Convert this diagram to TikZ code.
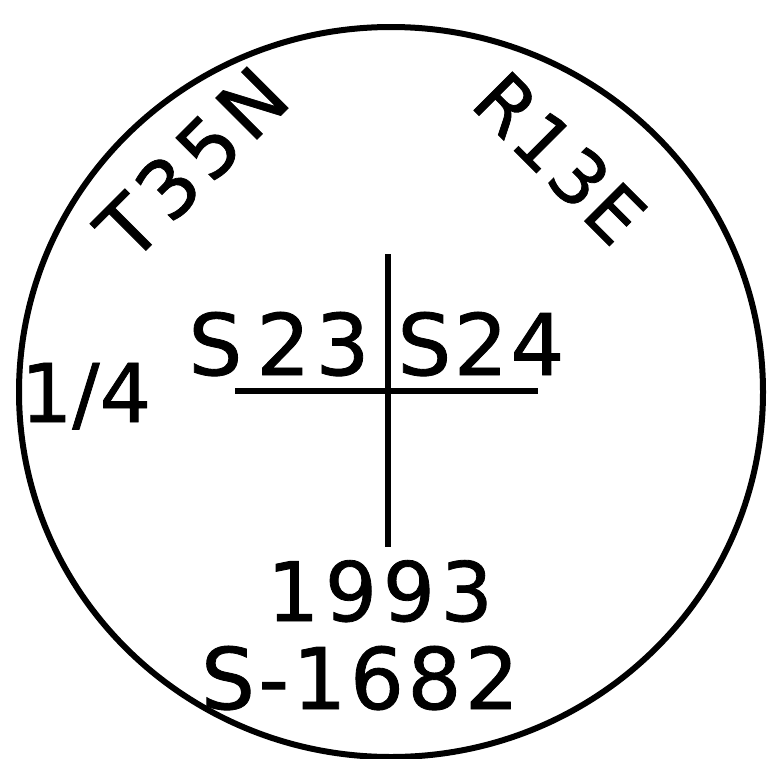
\documentclass[tikz,border=0pt]{standalone}
\usepackage{fontspec}
\newfontfamily\leroy[FakeBold=1]{DejaVu Sans}
\newcommand{\lsize}[2]{\leroy\fontsize{#1}{#1}\selectfont\addfontfeature{LetterSpace=#2}}

\begin{document}
\begin{tikzpicture}[x=1pt,y=-1pt,every node/.style={inner sep=0pt}]
\useasboundingbox (0,0) rectangle (768,758);
\clip (0,0) rectangle (768,758);
\draw[line width=6pt] (391,392) ellipse[x radius=372pt,y radius=365pt];
\coordinate (ntop) at (388,254);
\coordinate (nbot) at (388,547);
\coordinate (wend) at (235,391);
\coordinate (eend) at (538,391);
\draw[line width=6.5pt] (ntop)--(nbot);
\draw[line width=5.5pt] (wend)--(eend);
\node[rotate=45] (twp) at (192,163) {\lsize{80}{8}T35N};
\node[rotate=-45] (rng) at (560,158) {\lsize{75}{4}R13E};
\node[anchor=base] (frac) at (86,422) {\lsize{81}{0}1/4};
\node[anchor=base] (sec23) at (279,375) {\lsize{85}{6}S\kern14pt 23};
\node[anchor=base] (sec24) at (481,375) {\lsize{85}{3}S24};
\node[anchor=base] (yr) at (380,621) {\lsize{82}{7}1993};
\node[anchor=base] (srv) at (360,709) {\lsize{85}{4}S-1682};
\end{tikzpicture}
\end{document}
